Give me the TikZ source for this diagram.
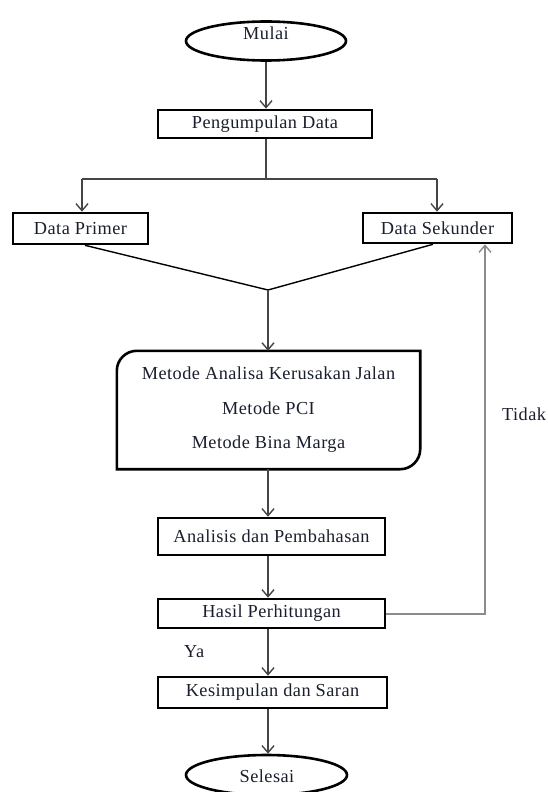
\documentclass[tikz,border=0pt]{standalone}
\usepackage{fontspec}
\setmainfont{Liberation Serif}[LetterSpace=2.5]
\usetikzlibrary{arrows.meta,shapes.geometric,calc}
\definecolor{ink}{HTML}{1A1F2E}
\definecolor{conncol}{HTML}{454545}
\definecolor{loopcol}{HTML}{8C8C8C}
\begin{document}
\begin{tikzpicture}[x=1pt,y=-1pt,
  txt/.style={text=ink,font=\fontsize{18.3}{22}\selectfont,inner sep=0pt},
  boxnode/.style={draw=black,line width=2.6pt,fill=white,rectangle,inner sep=0pt,text=ink,font=\fontsize{18.3}{22}\selectfont},
  termnode/.style={draw=black,line width=2.6pt,ellipse,inner sep=0pt},
  connline/.style={draw=conncol,line width=1.4pt},
  arr/.style={connline,-{Straight Barb[length=7pt,width=12pt,line width=1.4pt]}},
]
\fill[white] (0,0) rectangle (547,792);
\useasboundingbox (0,0) rectangle (547,792);

\node[termnode,minimum width=160pt,minimum height=39pt] (mulai) at (266,41) {};
\node[txt,anchor=base] (mulaitxt) at (266,40) {Mulai};
\node[boxnode,minimum width=214pt,minimum height=28pt] (peng) at (265,124) {Pengumpulan Data};
\node[boxnode,minimum width=135pt,minimum height=31pt] (primer) at (80.5,228.5) {Data Primer};
\node[boxnode,minimum width=149pt,minimum height=30pt] (sekunder) at (437.5,228) {Data Sekunder};
\node[txt,minimum width=303pt,minimum height=118pt,align=center,font=\fontsize{18.3}{34.5}\selectfont] (metode) at (268.5,410) {Metode Analisa Kerusakan Jalan\\Metode PCI\\Metode Bina Marga};
\node[boxnode,minimum width=227pt,minimum height=37pt] (analisis) at (271.5,536.5) {Analisis dan Pembahasan};
\node[boxnode,minimum width=227pt,minimum height=29pt] (hasil) at (271.5,613.5) {Hasil Perhitungan};
\node[boxnode,minimum width=229pt,minimum height=31pt] (kesimpulan) at (272.5,692.5) {Kesimpulan dan Saran};
\node[termnode,minimum width=161pt,minimum height=40pt] (selesai) at (266.5,775) {};
\node[txt,anchor=base] (selesaitxt) at (267,782) {Selesai};
\node[txt,anchor=base west] (tidak) at (502,420) {Tidak};
\node[txt,anchor=base west] (ya) at (184,657) {Ya};

\draw[line width=2.6pt] ([xshift=20pt]metode.north west) -- (metode.north east) -- ([yshift=20pt]metode.south east) .. controls ([yshift=9pt]metode.south east) and ([xshift=-9pt]metode.south east) .. ([xshift=-20pt]metode.south east) -- (metode.south west) -- ([yshift=-20pt]metode.north west) .. controls ([yshift=-9pt]metode.north west) and ([xshift=9pt]metode.north west) .. cycle;

\coordinate (split) at (266,179);
\coordinate (splitL) at (82,179);
\coordinate (splitR) at (437,179);
\coordinate (merge) at (268,290);
\coordinate (loopc) at (485,613.5);

\draw[arr] (mulai.south) -- (mulai.south |- peng.north);
\draw[connline] (peng.south -| split) -- (split);
\draw[connline] (splitL) -- (splitR);
\draw[arr] (splitL) -- (splitL |- primer.north);
\draw[arr] (splitR) -- (splitR |- sekunder.north);
\draw[connline,draw=black] ([xshift=4.5pt]primer.south) -- (merge) -- ([xshift=-4.5pt]sekunder.south);
\draw[arr] (merge) -- (merge |- metode.north);
\draw[arr] (metode.south -| merge) -- (merge |- analisis.north);
\draw[arr] (analisis.south -| merge) -- (merge |- hasil.north);
\draw[arr] (hasil.south -| merge) -- (merge |- kesimpulan.north);
\draw[arr] (kesimpulan.south -| merge) -- (merge |- selesai.north);
\draw[arr,draw=loopcol,line width=2pt] (hasil.east) -- (loopc) -- (loopc |- sekunder.south);
\end{tikzpicture}
\end{document}
